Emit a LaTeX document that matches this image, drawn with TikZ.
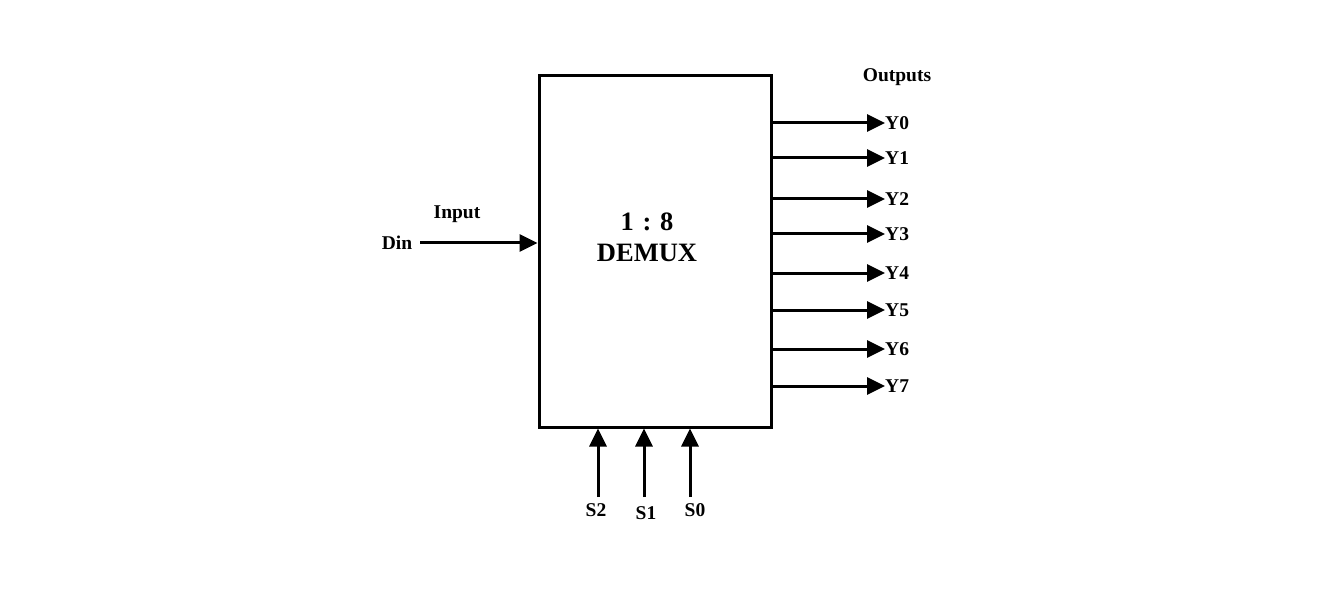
\documentclass[tikz,border=0pt]{standalone}
\usepackage{fontspec}
\setmainfont{Liberation Serif}
\usetikzlibrary{arrows.meta}
\begin{document}
\begin{tikzpicture}[x=1pt,y=-1pt,
  lbl/.style={font=\bfseries\fontsize{19.5}{22}\selectfont, inner sep=1pt},
  wire/.style={line width=3pt, -{Triangle[length=18pt,width=17pt]}},
  title/.style={font=\bfseries\fontsize{26.5}{31}\selectfont, align=center}]
\useasboundingbox (0,0) rectangle (1320,604);
\node[draw, line width=3pt, minimum width=232pt, minimum height=351pt, inner sep=0pt] (box) at (655,251.5) {};
\node[title] (t) at (647,237) {1\,\,:\,\,8\\DEMUX};
\node[lbl] (din) at (397,243) {Din};
\node[lbl] (inp) at (457,214) {Input};
\coordinate (dstart) at (420,243);
\draw[wire] (dstart) -- (box.west |- dstart);
\node[lbl] (outs) at (897,77) {Outputs};
\foreach \i/\y in {0/122,1/157,2/198,3/233,4/272,5/309,6/348,7/385}{
  \node[lbl, anchor=west, inner sep=0pt] (y\i) at (885,\y+1) {Y\i};
  \draw[wire] (box.east |- y\i.west) -- (y\i.west);
}
\node[lbl] (s2) at (596,510) {S2};
\node[lbl] (s1) at (646,513) {S1};
\node[lbl] (s0) at (695,510) {S0};
\foreach \n/\x in {s2/598,s1/644,s0/690}{
  \coordinate (\n b) at (\x,497);
  \draw[wire] (\n b) -- (\n b |- box.south);
}
\end{tikzpicture}
\end{document}
